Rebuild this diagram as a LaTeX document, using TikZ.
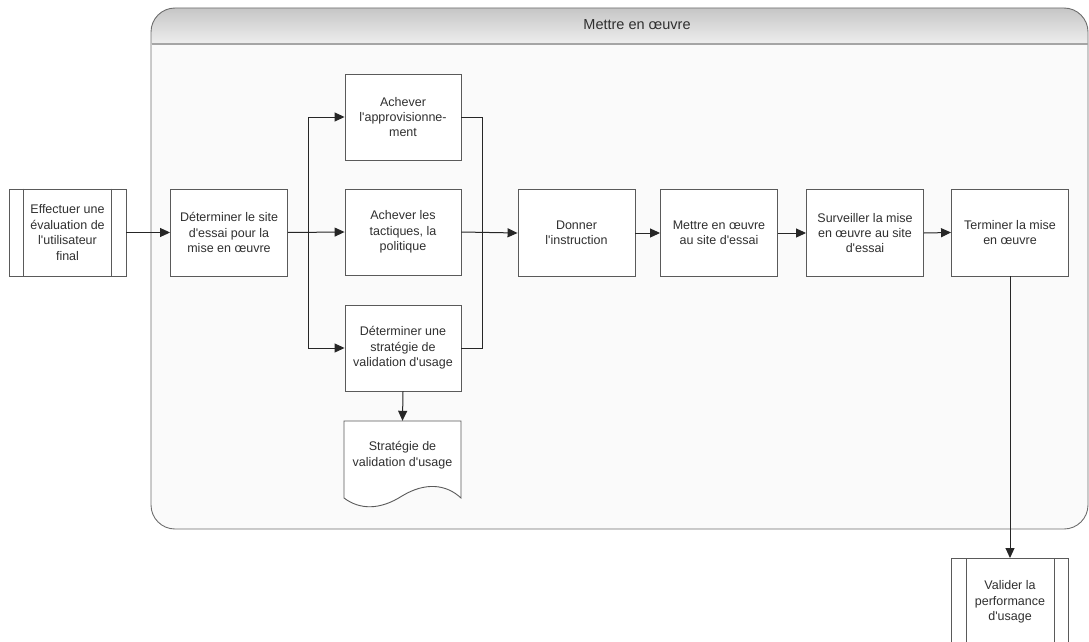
\documentclass[tikz,border=0pt]{standalone}
\usepackage{fontspec}
\newfontfamily\lab{Liberation Sans}
\usetikzlibrary{arrows.meta,calc}
\definecolor{boxc}{HTML}{5A5A5A}
\definecolor{txtc}{HTML}{303030}
\definecolor{linec}{HTML}{262626}
\definecolor{contc}{HTML}{6E6E6E}
\definecolor{hdrTop}{HTML}{C6C6C6}
\definecolor{hdrBot}{HTML}{EEEEEE}
\definecolor{bodyc}{HTML}{FAFAFA}
\tikzset{
  stepbox/.style={draw=boxc, line width=0.9pt, fill=white, minimum width=117pt, minimum height=87pt,
    inner sep=0pt, align=center, text=txtc, font=\lab\fontsize{12.5pt}{15.4pt}\selectfont},
  conn/.style={draw=linec, line width=1pt},
  arr/.style={conn, -{Triangle[length=10pt,width=9pt]}},
}
\begin{document}
\begin{tikzpicture}[x=1pt,y=1pt]
\useasboundingbox (0,0) rectangle (1089,-642);
% container
\fill[bodyc, rounded corners=24pt] (151,-8) rectangle (1088,-529);
\shade[top color=hdrTop, bottom color=hdrBot] (151,-44) -- (151,-32) arc[start angle=180, end angle=90, radius=24pt] -- (1064,-8) arc[start angle=90, end angle=0, radius=24pt] -- (1088,-44) -- cycle;
\draw[contc, line width=0.9pt, rounded corners=24pt] (151,-8) rectangle (1088,-529);
\draw[color={rgb,255:red,165;green,165;blue,165}, line width=1.6pt] (151.5,-44) -- (1087.5,-44);
\node[text=txtc, font=\lab\fontsize{14.5pt}{16pt}\selectfont] (title) at (637,-25) {Mettre en œuvre};

% nodes
\node[stepbox] (eff) at (67.5,-232.5) {Effectuer une\\évaluation de\\l'utilisateur\\final};
\draw[boxc, line width=0.9pt] ([xshift=15pt]eff.north west) -- ([xshift=15pt]eff.south west)
  ([xshift=-15pt]eff.north east) -- ([xshift=-15pt]eff.south east);
\node[stepbox] (site) at (229,-232.5) {Déterminer le site\\d'essai pour la\\mise en œuvre};
\node[stepbox, minimum width=116pt, minimum height=86pt] (appro) at (403,-117) {Achever\\l'approvisionne-\\ment};
\node[stepbox, minimum width=116pt, minimum height=86pt] (tact) at (403,-232) {Achever les\\tactiques, la\\politique};
\node[stepbox, minimum width=116pt, minimum height=86pt] (strat) at (403,-348) {Déterminer une\\stratégie de\\validation d'usage};
\node[stepbox] (donner) at (576.5,-233) {Donner\\l'instruction};
\node[stepbox] (mettre) at (719,-233) {Mettre en œuvre\\au site d'essai};
\node[stepbox] (surv) at (865,-233) {Surveiller la mise\\en œuvre au site\\d'essai};
\node[stepbox] (term) at (1010,-232.5) {Terminer la mise\\en œuvre};
\node[stepbox, anchor=north] (valider) at (1010,-558) {Valider la\\performance\\d'usage};
\draw[boxc, line width=0.9pt] ([xshift=15pt]valider.north west) -- ([xshift=15pt]valider.south west)
  ([xshift=-15pt]valider.north east) -- ([xshift=-15pt]valider.south east);

% document shape
\fill[white] (344,-421) -- (461,-421) -- (461,-498)
  .. controls (446,-484) and (425,-482) .. (402,-496)
  .. controls (380,-510) and (360,-510) .. (344,-498) -- cycle;
\draw[boxc, line width=0.9pt] (344,-421) -- (461,-421) -- (461,-498)
  .. controls (446,-484) and (425,-482) .. (402,-496)
  .. controls (380,-510) and (360,-510) .. (344,-498) -- cycle;
\node[inner sep=0pt, minimum width=117pt, minimum height=68pt, align=center, text=txtc,
  font=\lab\fontsize{12.5pt}{15.4pt}\selectfont] (doc) at (402.5,-455) {Stratégie de\\validation d'usage};

% connectors
\coordinate (bL) at (308,-232);
\coordinate (bR) at (482,-232);
\draw[arr] (eff.east) -- (site.west);
\draw[arr] (site.east) -- (tact.west);
\draw[arr] (bL) |- (appro.west);
\draw[arr] (bL) |- (strat.west);
\draw[conn] (appro.east) -| (bR);
\draw[conn] (strat.east) -| (bR);
\draw[arr] (tact.east) -- (donner.west);
\draw[arr] (donner.east) -- (mettre.west);
\draw[arr] (mettre.east) -- (surv.west);
\draw[arr] (surv.east) -- (term.west);
\draw[arr] (strat.south) -- (doc.north);
\draw[arr] (term.south) -- (valider.north);
\end{tikzpicture}
\end{document}
